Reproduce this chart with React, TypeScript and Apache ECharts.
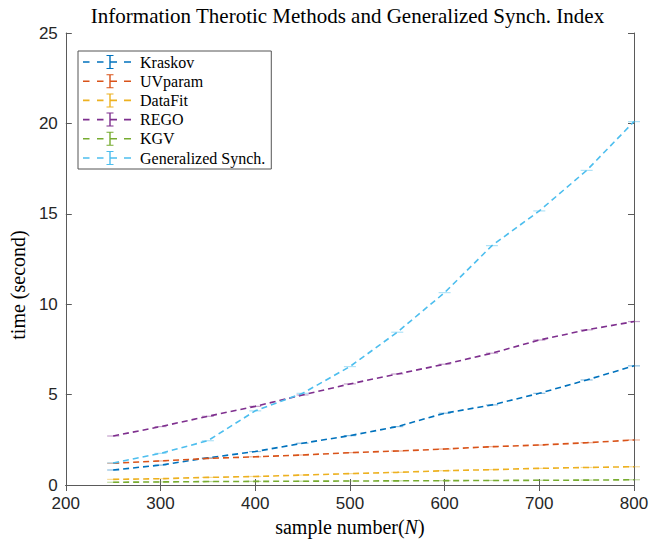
import React, { useEffect, useRef } from "react";
import * as echarts from "echarts";

const sampleN = [250, 300, 350, 400, 450, 500, 550, 600, 650, 700, 750, 800];
const kraskov = [0.83, 1.1, 1.5, 1.85, 2.31, 2.73, 3.23, 3.97, 4.43, 5.07, 5.81, 6.59];
const uvparam = [1.2, 1.33, 1.47, 1.56, 1.66, 1.79, 1.88, 1.99, 2.12, 2.21, 2.34, 2.49];
const dataFit = [0.31, 0.35, 0.42, 0.47, 0.55, 0.63, 0.7, 0.79, 0.85, 0.92, 0.97, 1.01];
const rego = [2.71, 3.23, 3.8, 4.35, 4.98, 5.59, 6.14, 6.68, 7.29, 8.02, 8.58, 9.04];
const kgv = [0.15, 0.17, 0.19, 0.2, 0.21, 0.22, 0.23, 0.24, 0.25, 0.26, 0.27, 0.29];
const genSynch = [1.22, 1.75, 2.45, 4.1, 5.07, 6.55, 8.45, 10.64, 13.24, 15.16, 17.4, 20.1];

const seriesNames = ["Kraskov", "UVparam", "DataFit", "REGO", "KGV", "Generalized Synch."];
const seriesValues = [kraskov, uvparam, dataFit, rego, kgv, genSynch];
const colors = ["#0072BD", "#D95319", "#EDB120", "#7E2F8E", "#77AC30", "#4DBEEE"];

const xTicks = [200, 300, 400, 500, 600, 700, 800];
const yTicks = [0, 5, 10, 15, 20, 25];

const legendIcon =
  "path://M0 6.2h6.5v1.6h-6.5z M14 6.2h6.5v1.6h-6.5z M27 6.2h7v1.6h-7z M41 6.2h7v1.6h-7z M26.3 0h1.4v14h-1.4z M23.5 0h7v1h-7z M23.5 13h7v1h-7z";

function lighten(hex: string, a: number) {
  const r = parseInt(hex.slice(1, 3), 16);
  const g = parseInt(hex.slice(3, 5), 16);
  const b = parseInt(hex.slice(5, 7), 16);
  return `rgba(${r},${g},${b},${a})`;
}

export default function App() {
  const ref = useRef<HTMLDivElement>(null);
  useEffect(() => {
    if (!ref.current) return;
    const chart = echarts.init(ref.current, null, { renderer: "svg" });
    const axisColor = "#5a5a5a";
    const labelColor = "#262626";
    const xAxisBase = {
      type: "value",
      min: xTicks[0],
      max: xTicks[xTicks.length - 1],
      interval: 100,
      splitLine: { show: false },
      axisLine: { show: true, lineStyle: { color: axisColor, width: 1 } },
      axisTick: { show: true, inside: true, length: 6, lineStyle: { color: axisColor } },
    };
    const yAxisBase = {
      type: "value",
      min: yTicks[0],
      max: yTicks[yTicks.length - 1],
      interval: 5,
      splitLine: { show: false },
      axisLine: { show: true, lineStyle: { color: axisColor, width: 1 } },
      axisTick: { show: true, inside: true, length: 6, lineStyle: { color: axisColor } },
    };
    chart.setOption({
      animation: false,
      backgroundColor: "#ffffff",
      title: {
        text: "Information Therotic Methods and Generalized Synch. Index",
        left: 347.5,
        textAlign: "center",
        top: 5,
        padding: 0,
        textStyle: {
          fontFamily: "Liberation Serif",
          fontWeight: "normal",
          fontSize: 21,
          color: "#000",
        },
      },
      legend: {
        orient: "vertical",
        left: 78,
        top: 51,
        padding: [3, 6, 3, 5],
        itemGap: 3.2,
        itemWidth: 48,
        itemHeight: 14,
        borderColor: "#555",
        borderWidth: 1,
        backgroundColor: "#fff",
        selectedMode: false,
        textStyle: {
          fontFamily: "Liberation Serif",
          fontSize: 16,
          color: "#000",
          width: 130,
          padding: [0, 0, 0, 4],
        },
        data: seriesNames.map((n, i) => ({
          name: n,
          icon: legendIcon,
          itemStyle: { color: colors[i], borderWidth: 0 },
        })),
      },
      grid: { left: 61, right: 18, top: 33, bottom: 57, containLabel: false },
      xAxis: [
        {
          ...xAxisBase,
          position: "bottom",
          name: "{t|sample number(}{i|N}{t|)}",
          nameLocation: "middle",
          nameGap: 27,
          nameTextStyle: {
            rich: {
              t: { fontFamily: "Liberation Serif", fontSize: 20, color: "#000" },
              i: { fontFamily: "Liberation Serif", fontStyle: "italic", fontSize: 20, color: "#000" },
            },
          },
          axisLabel: {
            margin: 10,
            fontFamily: "Liberation Sans",
            fontSize: 17,
            color: labelColor,
          },
        },
        {
          ...xAxisBase,
          position: "top",
          axisLabel: { show: false },
        },
      ],
      yAxis: [
        {
          ...yAxisBase,
          position: "left",
          name: "time (second)",
          nameLocation: "middle",
          nameGap: 33,
          nameTextStyle: {
            fontFamily: "Liberation Serif",
            fontSize: 20,
            color: "#000",
            padding: [0, 52, 0, 0],
          },
          axisLabel: {
            margin: 8,
            fontFamily: "Liberation Sans",
            fontSize: 17,
            color: labelColor,
          },
        },
        {
          ...yAxisBase,
          position: "right",
          axisLabel: { show: false },
        },
      ],
      series: seriesNames.map((n, i) => ({
        name: n,
        type: "line",
        xAxisIndex: 0,
        yAxisIndex: 0,
        data: sampleN.map((x, j) => [x, seriesValues[i][j]]),
        symbol: "rect",
        symbolSize: [12, 1.2],
        itemStyle: { color: lighten(colors[i], 0.45) },
        lineStyle: { color: colors[i], width: 1.6, type: [6, 4] },
        emphasis: { disabled: true },
        z: 2 + i,
      })),
    });
    return () => chart.dispose();
  }, []);
  return <div ref={ref} style={{ width: 652, height: 542, position: "absolute", left: 0, top: 0 }} />;
}
